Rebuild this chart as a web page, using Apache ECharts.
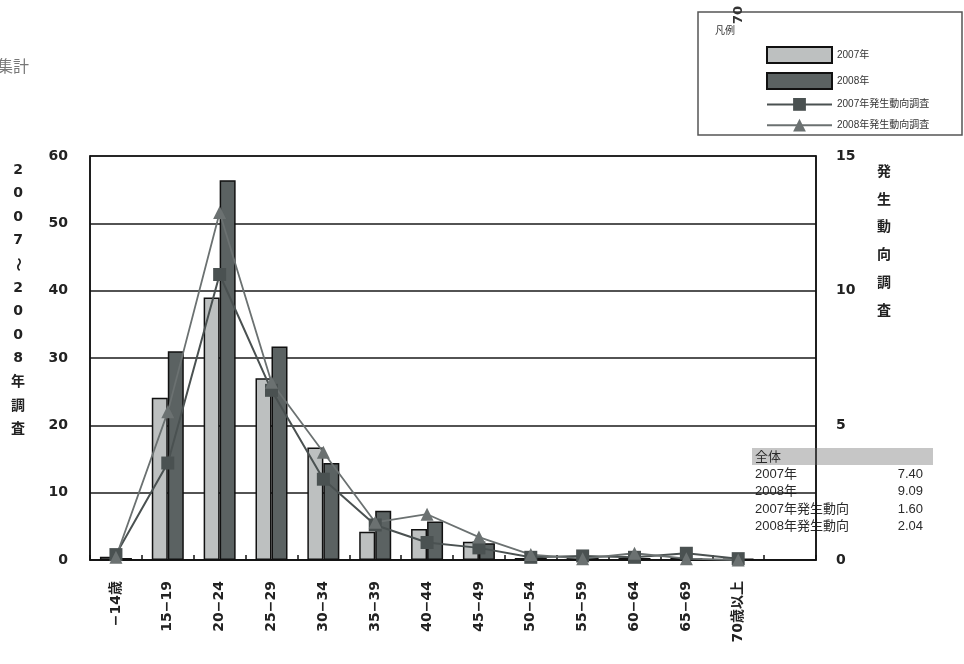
<!DOCTYPE html>
<html><head><meta charset="utf-8">
<script src="https://cdn.jsdelivr.net/npm/echarts@6/dist/echarts.min.js"></script>
<style>html,body{margin:0;padding:0;background:#fff}#c{width:964px;height:664px}</style>
</head><body><div id="c"></div>
<script>
// ---- data ----
const categories = ['−14歳','15−19','20−24','25−29','30−34','35−39','40−44','45−49','50−54','55−59','60−64','65−69','70歳以上',''];
const bars2007 = [0.5, 24.1, 39.0, 27.0, 16.7, 4.2, 4.6, 2.7, 0.3, 0.3, 0.3, 0.3, 0.2, null];
const bars2008 = [0.3, 31.0, 56.4, 31.7, 14.4, 7.3, 5.7, 2.5, 0.3, 0.3, 0.3, 0.3, 0.2, null];
const trend2007 = [0.2, 3.6, 10.6, 6.3, 3.0, 1.3, 0.65, 0.45, 0.1, 0.15, 0.1, 0.25, 0.05, null];
const trend2008 = [0.1, 5.5, 12.9, 6.6, 4.0, 1.4, 1.7, 0.85, 0.2, 0.05, 0.25, 0.05, 0.0, null];
const seriesNames = ['2007年','2008年','2007年発生動向調査','2008年発生動向調査'];
const leftTicks = {min:0, max:60, interval:10};
const rightTicks = {min:0, max:15, interval:5};
const leftTitle = ['2','0','0','7','〜','2','0','0','8','年','調','査'];
const rightTitle = ['発','生','動','向','調','査'];
const summaryHeader = '全体';
const summaryLabels = ['2007年','2008年','2007年発生動向','2008年発生動向'];
const summaryValues = ['7.40','9.09','1.60','2.04'];

const FONT = '"Liberation Sans","Noto Sans CJK JP",sans-serif';
const WIDE = '"DejaVu Sans","Noto Sans CJK JP",sans-serif';
const chart = echarts.init(document.getElementById('c'), null, {renderer:'canvas'});

const graphics = [];
// legend box
graphics.push({type:'rect', shape:{x:698,y:12,width:264,height:123}, style:{fill:'none', stroke:'#555', lineWidth:1.5}});
graphics.push({type:'text', x:715, y:26, style:{text:'凡例', font:'10px '+FONT, fill:'#333'}});
// cut-off text
graphics.push({type:'text', x:-3, y:60, style:{text:'集計', font:'16px '+FONT, fill:'#777'}});
graphics.push({type:'text', x:732, y:24, rotation:Math.PI/2, style:{text:'70', font:'bold 13px '+WIDE, fill:'#333'}});
// left axis title
leftTitle.forEach((ch,i)=>{
  const y = 170 + i*23.6;
  graphics.push({type:'text', x:18, y:y, rotation:(ch === '〜') ? -Math.PI/2 : 0,
    style:{text:ch, font:'bold 14px '+WIDE, fill:'#222', align:'center', verticalAlign:'middle'}});
});
rightTitle.forEach((ch,i)=>{
  graphics.push({type:'text', x:884, y:172 + i*27.8, style:{text:ch, font:'bold 14px '+FONT, fill:'#222', align:'center', verticalAlign:'middle'}});
});
// summary table
graphics.push({type:'rect', shape:{x:752,y:448,width:181,height:17}, style:{fill:'#c6c6c6'}});
graphics.push({type:'text', x:755, y:457, style:{text:summaryHeader, font:'13px '+FONT, fill:'#2a2a2a', verticalAlign:'middle'}});
summaryLabels.forEach((t,i)=>{
  const y = 474 + i*17.5;
  graphics.push({type:'text', x:755, y:y, style:{text:t, font:'13px '+FONT, fill:'#2a2a2a', verticalAlign:'middle'}});
  graphics.push({type:'text', x:923, y:y, style:{text:summaryValues[i], font:'13px '+FONT, fill:'#2a2a2a', align:'right', verticalAlign:'middle'}});
});

const axisLabelStyle = {color:'#222', fontWeight:'bold', fontSize:14, fontFamily:WIDE};

chart.setOption({
  backgroundColor:'#fff',
  animation:false,
  graphic:{z:-1, elements:graphics},
  legend:{
    orient:'vertical', left:761, top:41, itemWidth:65, itemHeight:16, itemGap:8,
    textStyle:{fontSize:10, color:'#333', fontFamily:FONT},
    data:[
      {name:seriesNames[0], icon:'rect'},
      {name:seriesNames[1], icon:'rect'},
      {name:seriesNames[2]},
      {name:seriesNames[3]}
    ]
  },
  grid:{left:90, right:148, top:156, bottom:104, show:true, borderColor:'#111', borderWidth:1.5, backgroundColor:'transparent'},
  xAxis:{
    type:'category', data:categories, boundaryGap:true,
    axisLine:{lineStyle:{color:'#111', width:1.5}},
    axisTick:{show:true, inside:true, length:5, lineStyle:{color:'#111', width:1.5}},
    axisLabel:{rotate:90, margin:21, interval:0, color:'#222', fontWeight:'bold', fontSize:14, fontFamily:WIDE}
  },
  yAxis:[
    {type:'value', min:leftTicks.min, max:leftTicks.max, interval:leftTicks.interval,
     axisLine:{show:true, lineStyle:{color:'#111', width:1.5}}, axisTick:{show:false},
     axisLabel:Object.assign({margin:22}, axisLabelStyle),
     splitLine:{show:true, lineStyle:{color:'#1a1a1a', width:1.5}}},
    {type:'value', min:rightTicks.min, max:rightTicks.max, interval:rightTicks.interval, position:'right',
     axisLine:{show:true, lineStyle:{color:'#111', width:1.5}}, axisTick:{show:false},
     axisLabel:Object.assign({margin:20}, axisLabelStyle),
     splitLine:{show:false}}
  ],
  series:[
    {name:seriesNames[0], type:'bar', data:bars2007, barWidth:16, barGap:'0%', yAxisIndex:0,
     itemStyle:{color:'#bdc0c0', borderColor:'#111', borderWidth:1.5}},
    {name:seriesNames[1], type:'bar', data:bars2008, barWidth:16, barGap:'0%', yAxisIndex:0,
     itemStyle:{color:'#5b6262', borderColor:'#111', borderWidth:1.5}},
    {name:seriesNames[2], type:'line', data:trend2007, yAxisIndex:1, symbol:'rect', symbolSize:13,
     lineStyle:{color:'#4a5151', width:2}, itemStyle:{color:'#4a5151'}},
    {name:seriesNames[3], type:'line', data:trend2008, yAxisIndex:1, symbol:'triangle', symbolSize:13,
     lineStyle:{color:'#6b7171', width:1.8}, itemStyle:{color:'#6b7171'}}
  ]
});
</script></body></html>
